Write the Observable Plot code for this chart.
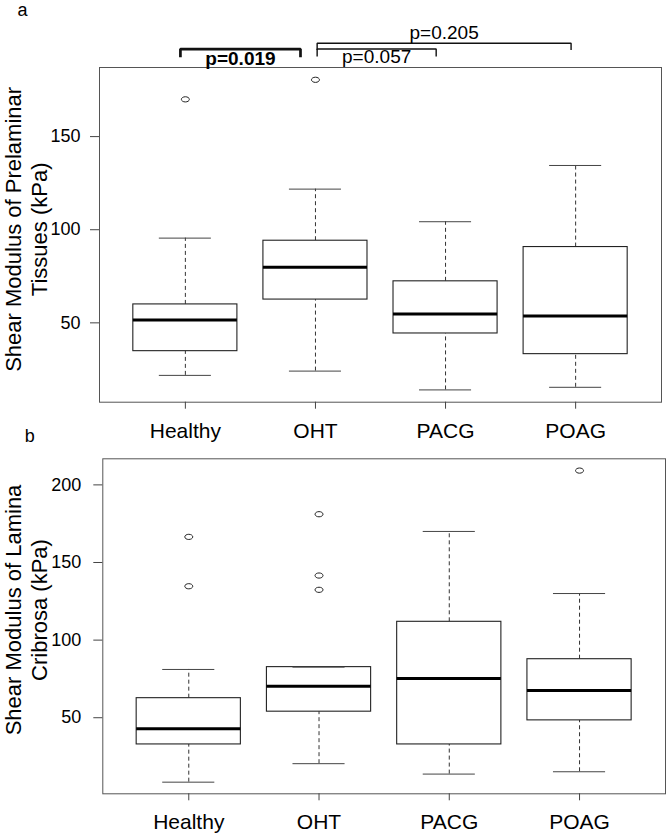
<!DOCTYPE html>
<html>
<head>
<meta charset="utf-8">
<script src="https://cdn.jsdelivr.net/npm/d3@7"></script>
<script src="https://cdn.jsdelivr.net/npm/@observablehq/plot@0.6"></script>
<style>
  body { margin: 0; background: #fff; }
  #chart { width: 666px; height: 833px; position: relative; overflow: hidden; background: #fff; }
  #chart svg { position: absolute; left: 0; }
</style>
</head>
<body>
<div id="chart"></div>
<script>
// ---------- data ----------
const categories = ["Healthy", "OHT", "PACG", "POAG"];

// Panel a: Shear modulus of prelaminar tissues (kPa)
const prelamLower  = [21.8, 24.1, 14.0, 15.4];
const prelamQ1     = [34.8, 62.5, 44.3, 33.2];
const prelamMedian = [51.6, 79.8, 54.8, 53.7];
const prelamQ3     = [59.9, 94.1, 72.3, 90.7];
const prelamUpper  = [95.5, 121.8, 104.3, 134.5];
const prelamOutliers = [["Healthy", 170.0], ["OHT", 180.5]];
const prelamTicks = [50, 100, 150];

// Panel b: Shear modulus of lamina cribrosa (kPa)
const laminaLower  = [8.5, 20.4, 13.7, 15.2];
const laminaQ1     = [32.8, 53.9, 32.8, 48.3];
const laminaMedian = [42.9, 70.3, 75.3, 67.6];
const laminaQ3     = [62.6, 82.6, 111.8, 87.7];
const laminaUpper  = [81.1, 82.6, 170.0, 130.0];
const laminaOutliers = [["Healthy", 166.5], ["Healthy", 134.7], ["OHT", 181.1], ["OHT", 141.6], ["OHT", 132.4], ["POAG", 209.2]];
const laminaTicks = [50, 100, 150, 200];

// Significance comparisons (panel a)
const compFrom  = ["Healthy", "OHT", "OHT"];
const compTo    = ["OHT", "PACG", "POAG"];
const compLabel = ["p=0.019", "p=0.057", "p=0.205"];
const compBold  = [true, false, false];

// ---------- drawing ----------
const FONT = '"Liberation Sans", Arial, Helvetica, sans-serif';
const pos = c => categories.indexOf(c) + 1;

// ellipse symbol for outliers (as in the reference)
const ellipse = {
  draw(ctx) {
    const rx = 4, ry = 2.6, k = 0.5523;
    ctx.moveTo(rx, 0);
    ctx.bezierCurveTo(rx, ry * k, rx * k, ry, 0, ry);
    ctx.bezierCurveTo(-rx * k, ry, -rx, ry * k, -rx, 0);
    ctx.bezierCurveTo(-rx, -ry * k, -rx * k, -ry, 0, -ry);
    ctx.bezierCurveTo(rx * k, -ry, rx, -ry * k, rx, 0);
    ctx.closePath();
  }
};

function panel(o) {
  const rows = categories.map((c, i) => ({
    cat: c, pos: i + 1,
    lower: o.lower[i], q1: o.q1[i], median: o.median[i], q3: o.q3[i], upper: o.upper[i]
  }));
  return Plot.plot({
    width: 666, height: o.height,
    marginLeft: o.marginLeft, marginRight: o.marginRight,
    marginTop: o.marginTop, marginBottom: o.marginBottom,
    style: { fontFamily: FONT, color: "#000", background: "transparent", overflow: "visible" },
    x: { domain: [0.34, 4.66] },
    y: { domain: o.domain },
    marks: [
      Plot.ruleX(rows, { x: "pos", y1: "q3", y2: "upper", stroke: "#333", strokeDasharray: "4,3" }),
      Plot.ruleX(rows, { x: "pos", y1: "lower", y2: "q1", stroke: "#333", strokeDasharray: "4,3" }),
      Plot.rect(rows, { x1: d => d.pos - 0.4, x2: d => d.pos + 0.4, y1: "q1", y2: "q3", fill: "white", stroke: "#222", strokeWidth: 1.1 }),
      Plot.ruleY(rows, { x1: d => d.pos - 0.4, x2: d => d.pos + 0.4, y: "median", stroke: "#000", strokeWidth: 3 }),
      Plot.ruleY(rows, { x1: d => d.pos - 0.2, x2: d => d.pos + 0.2, y: "upper", stroke: "#444" }),
      Plot.ruleY(rows, { x1: d => d.pos - 0.2, x2: d => d.pos + 0.2, y: "lower", stroke: "#444" }),
      Plot.dot(o.outliers, { x: d => pos(d[0]), y: d => d[1], symbol: ellipse, r: 4, fill: "none", stroke: "#222", strokeWidth: 1 }),
      Plot.frame({ stroke: "#555" }),
      Plot.axisY({ ticks: o.ticks, tickSize: 9, tickPadding: o.tickPadding, fontSize: 18, label: null, stroke: "#444" }),
      Plot.axisX({ ticks: [1, 2, 3, 4], tickFormat: i => categories[i - 1], tickSize: 7, tickPadding: 13.7, fontSize: 21, label: null, stroke: "#444" }),
      Plot.text([o.title[0]], { text: d => d, frameAnchor: "left", rotate: -90, dx: o.titleDx[0], dy: o.titleDy, fontSize: 22, textAnchor: "middle", lineAnchor: "bottom" }),
      Plot.text([o.title[1]], { text: d => d, frameAnchor: "left", rotate: -90, dx: o.titleDx[1], dy: o.titleDy, fontSize: 22, textAnchor: "middle", lineAnchor: "bottom" }),
      Plot.text([o.letter], { text: d => d, frameAnchor: "top-left", dx: o.letterDx, dy: o.letterDy, fontSize: 18, textAnchor: "middle", lineAnchor: "bottom" }),
      ...(o.extra || [])
    ]
  });
}

// bracket layout (annotation geometry, in scale units)
const bracketLayout = [
  { x1: -0.038, x2: -0.115, line: 197.0, leg: 192.6, text: 188.4, width: 2.7 },
  { x1: 0.013,  x2: -0.072, line: 197.0, leg: 193.0, text: 189.3, width: 1.4 },
  { x1: 0.013,  x2: -0.035, line: 200.1, leg: 196.5, text: 202.4, width: 1.4 }
];
const bracketMarks = [];
compFrom.forEach((f, i) => {
  const L = bracketLayout[i];
  const xa = pos(f) + L.x1, xb = pos(compTo[i]) + L.x2;
  const pts = [[xa, L.leg], [xa, L.line], [xb, L.line], [xb, L.leg]];
  bracketMarks.push(Plot.line(pts, { x: d => d[0], y: d => d[1], stroke: "#111", strokeWidth: L.width, strokeLinejoin: "miter", strokeLinecap: "butt" }));
  bracketMarks.push(Plot.text([compLabel[i]], {
    text: d => d, x: () => (xa + xb) / 2, y: () => L.text,
    fontSize: 19, fontWeight: compBold[i] ? "bold" : "normal", textAnchor: "middle", lineAnchor: "bottom", fill: "#000"
  }));
});

const svgA = panel({
  lower: prelamLower, q1: prelamQ1, median: prelamMedian, q3: prelamQ3, upper: prelamUpper,
  outliers: prelamOutliers, ticks: prelamTicks, domain: [7.4, 187.1],
  height: 445, marginLeft: 99, marginRight: 5, marginTop: 67, marginBottom: 43.3,
  tickPadding: 10,
  title: ["Shear Modulus of Prelaminar", "Tissues (kPa)"], titleDx: [-78.5, -52.5], titleDy: -5.5,
  letter: "a", letterDx: -77, letterDy: -51.5,
  extra: bracketMarks
});
svgA.style.top = "0px";

const svgB = panel({
  lower: laminaLower, q1: laminaQ1, median: laminaMedian, q3: laminaQ3, upper: laminaUpper,
  outliers: laminaOutliers, ticks: laminaTicks, domain: [1.0, 216.8],
  height: 388, marginLeft: 102.3, marginRight: 1, marginTop: 13.3, marginBottom: 39.7,
  tickPadding: 12.6,
  title: ["Shear Modulus of Lamina", "Cribrosa (kPa)"], titleDx: [-81.8, -55.8], titleDy: -16.3,
  letter: "b", letterDx: -73, letterDy: -17
});
svgB.style.top = "445px";

const chart = document.getElementById("chart");
chart.appendChild(svgA);
chart.appendChild(svgB);
</script>
</body>
</html>
